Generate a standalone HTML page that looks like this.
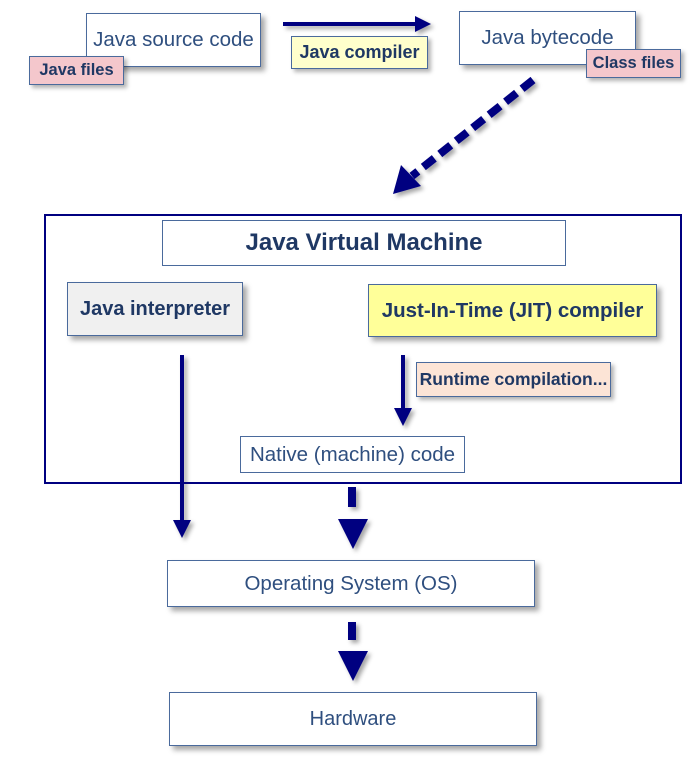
<!DOCTYPE html>
<html><head><style>
body{margin:0;width:697px;height:758px;background:#fff;position:relative;overflow:hidden;font-family:"Liberation Sans",sans-serif}
.b{position:absolute;box-sizing:border-box;border:1.5px solid #4a6a9c;background:#fff;display:flex;align-items:center;justify-content:center;color:#2f4f7f;box-shadow:4px 4px 5px rgba(0,0,0,0.35);white-space:nowrap}
.l{position:absolute;box-sizing:border-box;border:1.5px solid #4a6a9c;display:flex;align-items:center;justify-content:center;color:#1f3864;font-weight:bold;font-size:16px;box-shadow:3px 3px 4px rgba(0,0,0,0.3);white-space:nowrap}
</style></head><body>
<svg width="697" height="758" style="position:absolute;left:0;top:0">
<defs><filter id="s"><feDropShadow dx="3" dy="3" stdDeviation="2" flood-opacity="0.35"/></filter></defs>
<g fill="#000080" stroke="#000080" filter="url(#s)">
<line x1="283" y1="24" x2="418" y2="24" stroke-width="4"/>
<polygon points="415,16 431,24 415,32" stroke="none"/>
<line x1="533" y1="80" x2="412" y2="176" stroke-width="8" stroke-dasharray="14,7"/>
<polygon points="393,194 401,165 421,186" stroke="none"/>
<line x1="182" y1="355" x2="182" y2="522" stroke-width="4"/>
<polygon points="173,520 191,520 182,538" stroke="none"/>
<line x1="403" y1="355" x2="403" y2="412" stroke-width="4"/>
<polygon points="394,408 412,408 403,426" stroke="none"/>
<rect x="348" y="487" width="8" height="20" stroke="none"/>
<polygon points="338,519 368,519 353,549" stroke="none"/>
<rect x="348" y="622" width="8" height="18" stroke="none"/>
<polygon points="338,651 368,651 353,681" stroke="none"/>
</g>
<rect x="45" y="215" width="636" height="268" fill="none" stroke="#000080" stroke-width="2"/>
</svg>
<div class="b" style="left:86px;top:13px;width:175px;height:54px;font-size:20.5px">Java source code</div>
<div class="l" style="left:29px;top:56px;width:95px;height:29px;background:#f4c7cc;font-size:16.5px">Java files</div>
<div class="l" style="left:291px;top:36px;width:137px;height:33px;background:#ffffcc;font-size:18px">Java compiler</div>
<div class="b" style="left:459px;top:11px;width:177px;height:54px;font-size:20.5px">Java bytecode</div>
<div class="l" style="left:586px;top:49px;width:95px;height:29px;background:#f4c7cc;font-size:16.5px">Class files</div>
<div class="b" style="left:162px;top:220px;width:404px;height:46px;font-size:24px;font-weight:bold;color:#1f3864;box-shadow:none">Java Virtual Machine</div>
<div class="b" style="left:67px;top:282px;width:176px;height:54px;font-size:20px;font-weight:bold;color:#1f3864;background:#f0f0f0">Java interpreter</div>
<div class="b" style="left:368px;top:284px;width:289px;height:53px;font-size:20.5px;font-weight:bold;color:#1f3864;background:#ffff99">Just-In-Time (JIT) compiler</div>
<div class="l" style="left:416px;top:362px;width:195px;height:35px;background:#fce4d6;font-size:17.5px">Runtime compilation...</div>
<div class="b" style="left:240px;top:436px;width:225px;height:37px;font-size:20.5px;box-shadow:none">Native (machine) code</div>
<div class="b" style="left:167px;top:560px;width:368px;height:47px;font-size:20.5px">Operating System (OS)</div>
<div class="b" style="left:169px;top:692px;width:368px;height:54px;font-size:20px">Hardware</div>
</body></html>
